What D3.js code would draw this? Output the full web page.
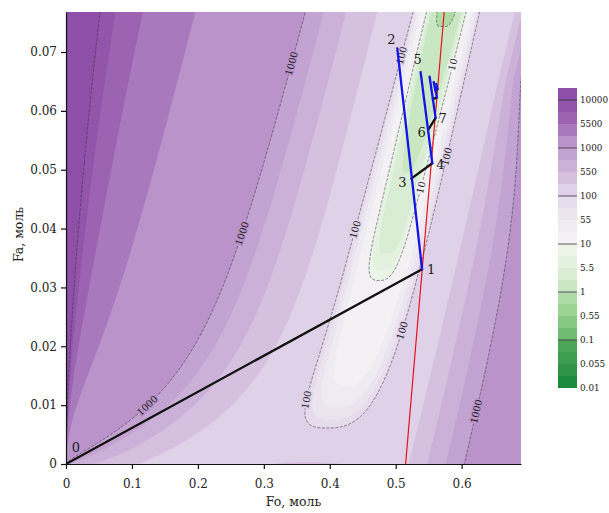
<!DOCTYPE html>
<html>
<head>
<meta charset="utf-8">
<script src="https://cdn.jsdelivr.net/npm/d3@7"></script>
<style>
  body { margin: 0; background: #fff; }
  text { font-family: "DejaVu Serif", serif; fill: #222; }
</style>
</head>
<body>
<svg id="chart" width="609" height="513"></svg>
<script>
// objective function levels (colour bar bands, lower bounds)
var levels = [0.01, 0.0325, 0.055, 0.0775, 0.1, 0.325, 0.55, 0.775, 1, 3.25, 5.5, 7.75,
              10, 32.5, 55, 77.5, 100, 325, 550, 775, 1000, 3250, 5500, 7750, 10000];
var barLabels = ["0.01", "0.055", "0.1", "0.55", "1", "5.5", "10", "55", "100", "550", "1000", "5500", "10000"];
var lineLevels = [1, 10, 100, 1000, 10000];

var xTicks = [0, 0.1, 0.2, 0.3, 0.4, 0.5, 0.6];
var xTickLabels = ["0", "0.1", "0.2", "0.3", "0.4", "0.5", "0.6"];
var yTicks = [0, 0.01, 0.02, 0.03, 0.04, 0.05, 0.06, 0.07];
var yTickLabels = ["0", "0.01", "0.02", "0.03", "0.04", "0.05", "0.06", "0.07"];

// search path: points 0..7 and the last small steps near the minimum
var pathFo = [0, 0.540, 0.5024, 0.5236, 0.5555, 0.5378, 0.5499, 0.5605, 0.5514, 0.5563, 0.5625, 0.5575, 0.5602, 0.5634, 0.5613];
var pathFa = [0, 0.0331, 0.0706, 0.0485, 0.0511, 0.0666, 0.0569, 0.0588, 0.0658, 0.0620, 0.0623, 0.0649, 0.0635, 0.0637, 0.0646];
var blackSteps = [[0, 1], [3, 4], [6, 7], [9, 10], [12, 13]];
var blueSteps = [[1, 2], [4, 5], [7, 8], [10, 11], [13, 14]];
var pointNames = ["0", "1", "2", "3", "4", "5", "6", "7"];

// red line
var redFo = [0.515, 0.5735];
var redFa = [0, 0.0768];

// inline labels of the contour lines
var lineLabelLevels = [1000, 1000, 1000, 1000, 100, 100, 100, 100, 100, 10, 10];
var lineLabelFo = [0.0896, 0.234, 0.3524, 0.6107, 0.442, 0.363, 0.5074, 0.5879, 0.5175, 0.559, 0.5377];
var lineLabelFa = [0.0139, 0.0403, 0.0678, 0.0092, 0.0398, 0.0109, 0.0228, 0.0520, 0.0692, 0.0686, 0.0470];

var bandColors = ["#1c893c", "#2f9447", "#3d9d50", "#4ca65a", "#6fbb70", "#87c883", "#9dd395", "#aedca7",
                  "#c9e7c3", "#d8edd3", "#e2f2de", "#eaf5e7", "#f3f1f4", "#efebf2", "#ebe4ef", "#e6dcec",
                  "#dfd1e7", "#d5c1df", "#cbb1d8", "#c3a3d1", "#b993c9", "#a87abd", "#9b63b2", "#9255aa", "#8d4fa8"];

var margin = {left: 66, top: 12},
    width = 455,
    height = 452;

var x = d3.scaleLinear().domain([0, 0.69]).range([0, width]);
var y = d3.scaleLinear().domain([0, 0.0768]).range([height, 0]);

// model of the objective surface, in plot pixels (X right, Y up from the origin)
function field(X, Y) {
  var c = 270.5 + 0.243 * Y;                 // valley axis
  var ct = c - 30 * Math.exp(-Y / 70);       // valley bends left at the bottom
  var p = X - c, pt = X - ct;
  // valley floor: 10 at the tip of the green zone, lower upwards, 100+ at the bottom
  var lv;
  if (Y < 184) lv = 1 + Math.pow((184 - Y) / 148, 2);
  else lv = 1 - 0.45 * Math.tanh((Y - 184) / 40) - 0.65 * Math.pow((Y - 184) / 268, 3);
  var floor = Math.pow(10, lv);
  var w = 52 - 14 * Math.max(0, Y) / height;
  var n = 2.6 + 2.4 * Math.max(0, Y) / height;  // trough gets flatter-bottomed upwards
  var broad;
  if (p < 0) {
    var p0 = 48 + 120 * Math.exp(-Y / 60);
    var s = Math.max(0, -p - p0);
    var m = 1 + 0.59 * Math.pow(Math.max(Y, 0) / Math.max(X, 0.5), 0.667);
    broad = 0.44 * Math.pow(s, 1.5) * m;
  } else {
    var ar = Math.min(30, 12 + 4 * Math.exp((Y - 264) / 80));
    broad = ar * Math.max(0, p - 66);
  }
  var g = 1 - Math.exp(-Math.pow(Math.abs(pt) / w, n));
  return floor + (250 + broad - floor) * g;
}

var PAD = 2,
    nx = width + 2 * PAD,
    ny = height + 2 * PAD,
    values = new Float64Array(nx * ny);
for (var j = 0; j < ny; j++) {
  for (var i = 0; i < nx; i++) {
    values[j * nx + i] = Math.log10(field(i - PAD + 0.5, height - (j - PAD + 0.5)));
  }
}

var svg = d3.select("#chart");
svg.append("defs").append("clipPath").attr("id", "plotclip")
  .append("rect").attr("width", width).attr("height", height);

var plot = svg.append("g")
  .attr("transform", "translate(" + margin.left + "," + margin.top + ")");

var surface = plot.append("g").attr("clip-path", "url(#plotclip)");
var field_g = surface.append("g").attr("transform", "translate(" + (-PAD) + "," + (-PAD) + ")");

var path = d3.geoPath();

// filled bands
field_g.append("rect").attr("width", nx).attr("height", ny).attr("fill", bandColors[0]);
var bands = d3.contours().size([nx, ny]).thresholds(levels.map(Math.log10))(values);
field_g.selectAll("path.band").data(bands).enter().append("path")
  .attr("class", "band")
  .attr("d", path)
  .attr("fill", function(d, k) { return bandColors[k]; });

// decade lines
var lines = d3.contours().size([nx, ny]).thresholds(lineLevels.map(Math.log10))(values);
field_g.selectAll("path.line").data(lines).enter().append("path")
  .attr("class", "line")
  .attr("d", path)
  .attr("fill", "none")
  .attr("stroke", "#3a3040")
  .attr("stroke-width", 0.6)
  .attr("stroke-dasharray", "3,1.5");

// inline labels: snap to the nearest vertex of the line and follow its direction
lineLabelLevels.forEach(function(level, n) {
  var contour = lines[lineLevels.indexOf(level)];
  var ax = x(lineLabelFo[n]) + PAD, ay = y(lineLabelFa[n]) + PAD;
  var best = null, bestD = Infinity;
  contour.coordinates.forEach(function(poly) {
    poly.forEach(function(ring) {
      for (var k = 1; k < ring.length - 1; k++) {
        var dx = ring[k][0] - ax, dy = ring[k][1] - ay, dd = dx * dx + dy * dy;
        if (dd < bestD) { bestD = dd; best = [ring, k]; }
      }
    });
  });
  if (!best) return;
  var ring = best[0], k = best[1];
  var a = ring[Math.max(0, k - 4)], b = ring[Math.min(ring.length - 1, k + 4)];
  var ang = Math.atan2(b[1] - a[1], b[0] - a[0]) * 180 / Math.PI;
  if (ang > 90) ang -= 180;
  if (ang <= -90) ang += 180;
  var halo = bandColors[levels.indexOf(level)];
  field_g.append("text")
    .attr("transform", "translate(" + ring[k][0] + "," + ring[k][1] + ") rotate(" + ang + ")")
    .attr("text-anchor", "middle")
    .attr("dy", "0.35em")
    .attr("font-size", 9.5)
    .attr("stroke", halo)
    .attr("stroke-width", 3)
    .attr("paint-order", "stroke")
    .text(level);
});

// red line
surface.append("line")
  .attr("x1", x(redFo[0])).attr("y1", y(redFa[0]))
  .attr("x2", x(redFo[1])).attr("y2", y(redFa[1]))
  .attr("stroke", "#e8141c")
  .attr("stroke-width", 1.2);

// search path
function drawSteps(steps, colour) {
  surface.append("g").selectAll("line").data(steps).enter().append("line")
    .attr("x1", function(d) { return x(pathFo[d[0]]); })
    .attr("y1", function(d) { return y(pathFa[d[0]]); })
    .attr("x2", function(d) { return x(pathFo[d[1]]); })
    .attr("y2", function(d) { return y(pathFa[d[1]]); })
    .attr("stroke", colour)
    .attr("stroke-width", 2.3)
    .attr("stroke-linecap", "round");
}
drawSteps(blackSteps, "#111");
drawSteps(blueSteps, "#1414e6");

var nameOffsets = [[10, -17], [9, 0], [-6, -9], [-9, 3.5], [8, 0.7], [-3, -13], [-7, 3], [7, 0]];
plot.append("g").selectAll("text").data(pointNames).enter().append("text")
  .attr("x", function(d, k) { return x(pathFo[k]) + nameOffsets[k][0]; })
  .attr("y", function(d, k) { return y(pathFa[k]) + nameOffsets[k][1]; })
  .attr("text-anchor", "middle")
  .attr("dy", "0.36em")
  .attr("font-size", 13)
  .text(function(d) { return d; });

// axes
var xAxis = plot.append("g")
  .attr("transform", "translate(0," + height + ")")
  .call(d3.axisBottom(x).tickValues(xTicks)
    .tickFormat(function(d, k) { return xTickLabels[k]; })
    .tickSize(5).tickPadding(10).tickSizeOuter(0));
var yAxis = plot.append("g")
  .call(d3.axisLeft(y).tickValues(yTicks)
    .tickFormat(function(d, k) { return yTickLabels[k]; })
    .tickSize(5).tickPadding(4).tickSizeOuter(0));
[xAxis, yAxis].forEach(function(a) {
  a.attr("font-size", 12).attr("font-family", null);
  a.selectAll("path, line").attr("stroke", "#111").attr("stroke-width", 1.2);
});

svg.append("text")
  .attr("x", margin.left + x(0.345)).attr("y", 506)
  .attr("text-anchor", "middle")
  .attr("font-size", 12.5)
  .text("Fo, моль");
svg.append("text")
  .attr("transform", "translate(19," + (margin.top + y(0.039)) + ") rotate(-90)")
  .attr("text-anchor", "middle")
  .attr("dy", "0.35em")
  .attr("font-size", 12.5)
  .text("Fa, моль");

// colour bar
var bar = svg.append("g").attr("transform", "translate(558,0)");
var barY = d3.scaleLinear().domain([0, levels.length]).range([388, 88]);
bar.selectAll("rect").data(bandColors).enter().append("rect")
  .attr("x", 0).attr("width", 19)
  .attr("y", function(d, k) { return barY(k + 1); })
  .attr("height", function(d, k) { return barY(k) - barY(k + 1); })
  .attr("fill", function(d) { return d; });
bar.selectAll("line").data(lineLevels.concat([0.1])).enter().append("line")
  .attr("x1", 0).attr("x2", 19)
  .attr("y1", function(d) { return barY(levels.indexOf(d)); })
  .attr("y2", function(d) { return barY(levels.indexOf(d)); })
  .attr("stroke", "#3a3040")
  .attr("stroke-width", 0.8);
bar.selectAll("text").data(barLabels).enter().append("text")
  .attr("x", 22)
  .attr("y", function(d, k) { return barY(2 * k); })
  .attr("dy", "0.35em")
  .attr("font-size", 8.8)
  .text(function(d) { return d; });
</script>
</body>
</html>
